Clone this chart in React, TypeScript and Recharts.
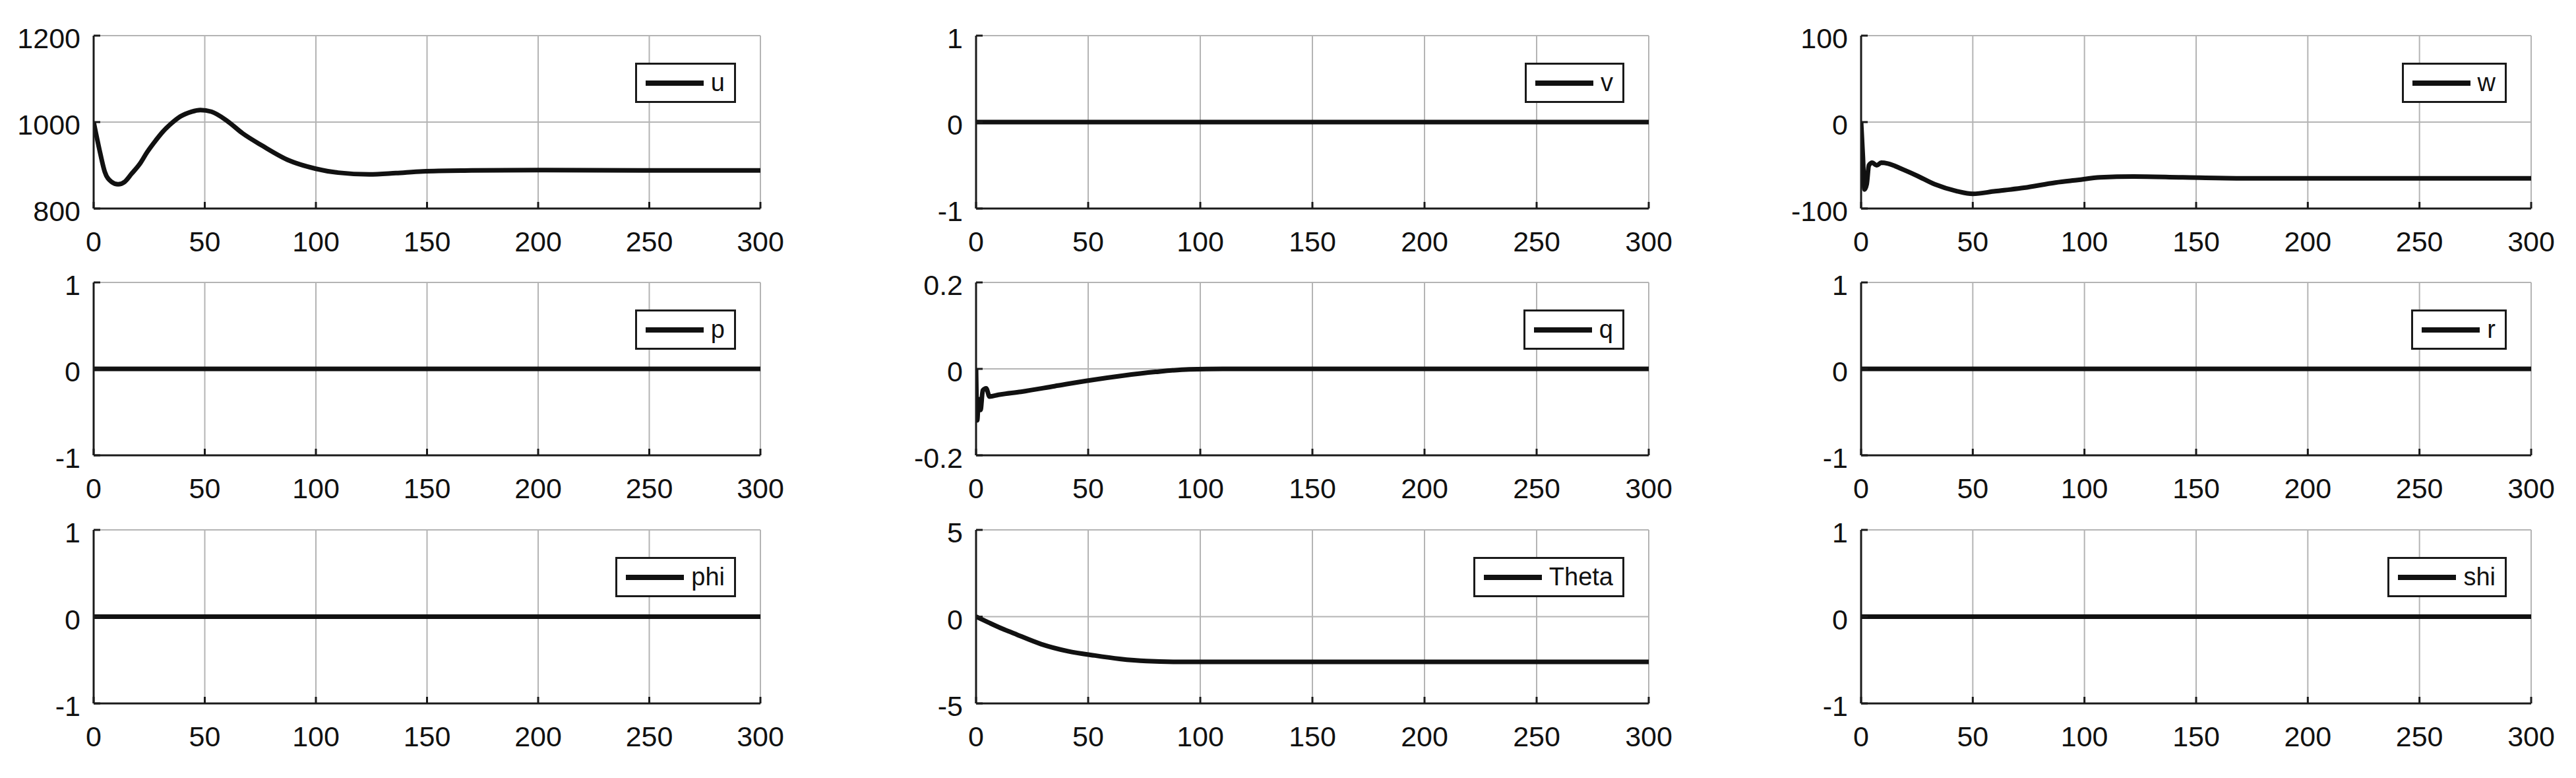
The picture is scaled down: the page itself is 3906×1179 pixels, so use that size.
import React from 'react';
import { LineChart, Line, XAxis, YAxis, CartesianGrid, Legend } from 'recharts';

// time axis ticks shared by all 9 subplots
const xTicks = [0, 50, 100, 150, 200, 250, 300];

// u (top left)
const tU = [0, 1, 3, 5, 8, 11, 14, 17, 21, 24, 28, 31, 35, 39, 44, 48, 53, 60, 67, 76, 88, 100, 110, 124, 136, 148, 170, 200, 250, 300];
const uVals = [1000, 975, 927, 885, 862, 856, 862, 880, 905, 930, 958, 977, 997, 1013, 1024, 1028, 1024, 1003, 974, 945, 911, 892, 883, 879, 882, 886, 888, 889, 888, 888];

// w (top right)
const tW = [0, 0.8, 1.5, 2.5, 3.5, 5, 7, 9, 12, 18, 25, 33, 43, 50, 60, 73, 87, 97, 107, 122, 144, 168, 200, 250, 300];
const wVals = [0, -40, -78, -72, -50, -47, -50, -47, -48, -54, -62, -72, -80, -83, -80, -76, -70, -67, -64, -63, -64, -65, -65, -65, -65];

// q (middle)
const tQ = [0, 0.5, 1.2, 2, 3, 4.5, 6, 10, 20, 35, 50, 65, 80, 95, 110, 200, 300];
const qVals = [0, -0.119, -0.07, -0.095, -0.05, -0.045, -0.064, -0.06, -0.053, -0.04, -0.027, -0.016, -0.007, -0.001, 0, 0, 0];

// Theta (bottom middle)
const tTheta = [0, 5.6, 10, 17, 29, 41, 53, 64, 76, 88, 100, 150, 200, 250, 300];
const thetaVals = [0, -0.34, -0.6, -0.97, -1.58, -1.99, -2.24, -2.43, -2.56, -2.6, -2.6, -2.6, -2.6, -2.6, -2.6];

// states that stay at zero
const tFlat = [0, 300];
const vVals = [0, 0];
const pVals = [0, 0];
const rVals = [0, 0];
const phiVals = [0, 0];
const psiVals = [0, 0];

const uTicks = [800, 1000, 1200];
const wTicks = [-100, 0, 100];
const qTicks = [-0.2, 0, 0.2];
const thetaTicks = [-5, 0, 5];
const unitTicks = [-1, 0, 1];

const toRows = (t: number[], v: number[]) => t.map((x, i) => ({ t: x, y: v[i] }));

const FONT = '"Liberation Sans Narrow", "Arial Narrow", "Liberation Sans", Arial, sans-serif';
const FRAME = '#1a1a1a';
const Y_AXIS_W = 140;
const X_AXIS_H = 90;
const M_TOP = 30;
const M_RIGHT = 70;

const colLeft = [142, 1480, 2822];
const colWidth = [1011, 1020, 1016];
const rowTop = [54, 428, 803];
const rowHeight = [262, 262, 263];

const BottomTick = (p: any) => (
  <g>
    <line x1={p.x} y1={p.y} x2={p.x} y2={p.y - 10} stroke={FRAME} strokeWidth={3} />
    <text x={p.x} y={p.y + 65} textAnchor="middle" fontFamily={FONT} fontSize={43} fill="#111">
      {p.payload.value}
    </text>
  </g>
);

const TopTick = (p: any) => <line x1={p.x} y1={p.y} x2={p.x} y2={p.y + 10} stroke={FRAME} strokeWidth={3} />;

const LeftTick = (p: any) => (
  <g>
    <line x1={p.x} y1={p.y} x2={p.x + 10} y2={p.y} stroke={FRAME} strokeWidth={3} />
    <text x={p.x - 20} y={p.y + 19} textAnchor="end" fontFamily={FONT} fontSize={43} fill="#111">
      {p.payload.value}
    </text>
  </g>
);

const RightTick = (p: any) => <line x1={p.x} y1={p.y} x2={p.x - 10} y2={p.y} stroke={FRAME} strokeWidth={3} />;

const renderLegend = (props: any) => {
  const entry = props.payload && props.payload[0];
  if (!entry) return null;
  return (
    <div
      style={{
        border: `3px solid ${FRAME}`,
        background: '#fff',
        height: 61,
        boxSizing: 'border-box',
        display: 'flex',
        alignItems: 'center',
        padding: '0 14px 0 13px',
        fontFamily: FONT,
        fontSize: 38,
        color: '#111',
        whiteSpace: 'nowrap',
      }}
    >
      <span style={{ display: 'inline-block', width: 88, height: 8, background: '#111', marginRight: 11 }} />
      <span>{entry.value}</span>
    </div>
  );
};

interface SubplotProps {
  name: string;
  t: number[];
  v: number[];
  yTicks: number[];
  col: number;
  row: number;
}

const Subplot: React.FC<SubplotProps> = ({ name, t, v, yTicks, col, row }) => {
  const width = colWidth[col];
  const height = rowHeight[row];
  const w = Y_AXIS_W + width + M_RIGHT;
  const h = M_TOP + height + X_AXIS_H;
  const lo = yTicks[0];
  const hi = yTicks[yTicks.length - 1];
  const data = toRows(t, v);

  return (
    <div style={{ position: 'absolute', left: colLeft[col] - Y_AXIS_W, top: rowTop[row] - M_TOP, width: w, height: h }}>
      <LineChart width={w} height={h} data={data} margin={{ top: M_TOP, right: M_RIGHT, bottom: 0, left: 0 }}>
        <CartesianGrid stroke="#b4b4b4" strokeWidth={2} />
        <XAxis
          dataKey="t"
          type="number"
          domain={[0, 300]}
          ticks={xTicks}
          interval={0}
          allowDataOverflow
          height={X_AXIS_H}
          tickSize={0}
          tickMargin={0}
          tickLine={false}
          axisLine={{ stroke: FRAME, strokeWidth: 3 }}
          tick={(p: any) => <BottomTick {...p} />}
        />
        <XAxis
          xAxisId="top"
          orientation="top"
          dataKey="t"
          type="number"
          domain={[0, 300]}
          ticks={xTicks}
          interval={0}
          allowDataOverflow
          height={0}
          tickSize={0}
          tickMargin={0}
          tickLine={false}
          axisLine={{ stroke: FRAME, strokeWidth: 3 }}
          tick={(p: any) => <TopTick {...p} />}
        />
        <YAxis
          type="number"
          domain={[lo, hi]}
          ticks={yTicks}
          interval={0}
          allowDataOverflow
          width={Y_AXIS_W}
          tickSize={0}
          tickMargin={0}
          tickLine={false}
          axisLine={{ stroke: FRAME, strokeWidth: 3 }}
          tick={(p: any) => <LeftTick {...p} />}
        />
        <YAxis
          yAxisId="right"
          orientation="right"
          type="number"
          domain={[lo, hi]}
          ticks={yTicks}
          interval={0}
          allowDataOverflow
          width={0}
          tickSize={0}
          tickMargin={0}
          tickLine={false}
          axisLine={{ stroke: FRAME, strokeWidth: 3 }}
          tick={(p: any) => <RightTick {...p} />}
        />
        <Legend
          layout="vertical"
          align="center"
          verticalAlign="middle"
          wrapperStyle={{ top: M_TOP + 41, right: M_RIGHT + 37, width: 'auto', height: 'auto' }}
          content={renderLegend}
        />
        <Line
          dataKey="y"
          name={name}
          type="monotone"
          stroke="#111"
          strokeWidth={7}
          dot={false}
          isAnimationActive={false}
        />
      </LineChart>
    </div>
  );
};

export default function App() {
  return (
    <div style={{ position: 'absolute', left: 0, top: 0, width: 3906, height: 1179, background: '#fff' }}>
      <Subplot name="u" t={tU} v={uVals} yTicks={uTicks} col={0} row={0} />
      <Subplot name="v" t={tFlat} v={vVals} yTicks={unitTicks} col={1} row={0} />
      <Subplot name="w" t={tW} v={wVals} yTicks={wTicks} col={2} row={0} />
      <Subplot name="p" t={tFlat} v={pVals} yTicks={unitTicks} col={0} row={1} />
      <Subplot name="q" t={tQ} v={qVals} yTicks={qTicks} col={1} row={1} />
      <Subplot name="r" t={tFlat} v={rVals} yTicks={unitTicks} col={2} row={1} />
      <Subplot name="phi" t={tFlat} v={phiVals} yTicks={unitTicks} col={0} row={2} />
      <Subplot name="Theta" t={tTheta} v={thetaVals} yTicks={thetaTicks} col={1} row={2} />
      <Subplot name="shi" t={tFlat} v={psiVals} yTicks={unitTicks} col={2} row={2} />
    </div>
  );
}
